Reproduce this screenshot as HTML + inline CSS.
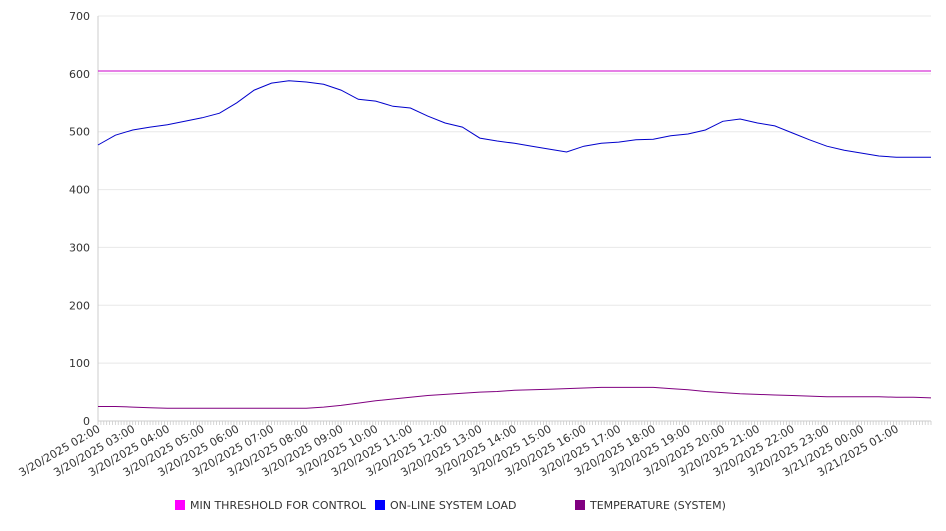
<!DOCTYPE html>
<html><head><meta charset="utf-8"><style>
body{margin:0;background:#fff;}
svg{font-family:"DejaVu Sans","Liberation Sans",sans-serif;}
</style></head><body>
<svg id="chart" width="946" height="526" xmlns="http://www.w3.org/2000/svg">
<g id="grid"></g>
<g id="yaxis"></g>
<g id="xaxis"></g>
<g id="series"></g>
<g font-size="11" fill="#333">
  <g><rect x="175" y="500" width="10" height="10" fill="#ff00ff"/><text x="190" y="509">MIN THRESHOLD FOR CONTROL</text></g>
  <g><rect x="375" y="500" width="10" height="10" fill="#0000ff"/><text x="390" y="509">ON-LINE SYSTEM LOAD</text></g>
  <g><rect x="575" y="500" width="10" height="10" fill="#800080"/><text x="590" y="509">TEMPERATURE (SYSTEM)</text></g>
</g>
</svg>
<script>
const hourLabels=["3/20/2025 02:00","3/20/2025 03:00","3/20/2025 04:00","3/20/2025 05:00","3/20/2025 06:00","3/20/2025 07:00","3/20/2025 08:00","3/20/2025 09:00","3/20/2025 10:00","3/20/2025 11:00","3/20/2025 12:00","3/20/2025 13:00","3/20/2025 14:00","3/20/2025 15:00","3/20/2025 16:00","3/20/2025 17:00","3/20/2025 18:00","3/20/2025 19:00","3/20/2025 20:00","3/20/2025 21:00","3/20/2025 22:00","3/20/2025 23:00","3/21/2025 00:00","3/21/2025 01:00"];
const yTicks=[0,100,200,300,400,500,600,700];
// half-hourly values, 02:00 .. next 02:00
const loadValues=[477,494,503,508,512,518,524,532,550,572,584,588,586,582,572,556,553,544,541,527,515,508,489,484,480,475,470,465,475,480,482,486,487,493,496,503,518,522,515,510,498,486,475,468,463,458,456,456,456];
const tempValues=[25,25,24,23,22,22,22,22,22,22,22,22,22,24,27,31,35,38,41,44,46,48,50,51,53,54,55,56,57,58,58,58,58,56,54,51,49,47,46,45,44,43,42,42,42,42,41,41,40];
const thresholdValue=605;

const NS="http://www.w3.org/2000/svg";
const X0=98,X1=931,Y0=421,Y1=16,HOURS=24;
const xs=h=>X0+(X1-X0)*h/HOURS;
const ys=v=>Y0-(Y0-Y1)*v/700;
function mk(tag,attrs,parent){const e=document.createElementNS(NS,tag);for(const k in attrs)e.setAttribute(k,attrs[k]);parent.appendChild(e);return e;}
const grid=document.getElementById('grid'),ya=document.getElementById('yaxis'),xa=document.getElementById('xaxis'),ser=document.getElementById('series');
yTicks.forEach(v=>{
  if(v>0){const l=mk('line',{x1:X0,x2:X1,y1:ys(v),y2:ys(v),stroke:'#e8e8e8'},grid);
  
  }
  const t=mk('text',{x:90,y:ys(v)+4,'text-anchor':'end','font-size':11,fill:'#333'},ya);t.textContent=v;
  
  
});
const ax=mk('line',{x1:X0,x2:X0,y1:Y1,y2:Y0,stroke:'#ccc'},ya);


const bx=mk('line',{x1:X0,x2:X1,y1:Y0,y2:Y0,stroke:'#ccc'},xa);


for(let m=0;m<=HOURS*60;m+=5){const x=xs(m/60);mk('line',{x1:x,x2:x,y1:Y0,y2:Y0+4,stroke:'#ccc','stroke-width':0.8},xa);}
hourLabels.forEach((s,i)=>{
  const x=xs(i);
  const t=mk('text',{x:0,y:0,'text-anchor':'end','font-size':11,fill:'#333',transform:`translate(${x+3},${Y0+10}) rotate(-30)`},xa);
  t.textContent=s;
  
  
});
function line(vals,color,name){
  const pts=vals.map((v,i)=>xs(i*HOURS/(vals.length-1)).toFixed(1)+','+ys(v).toFixed(1)).join(' ');
  const p=mk('polyline',{points:pts,fill:'none',stroke:color,'stroke-width':1},ser);
  
  
}
line([thresholdValue,thresholdValue],'#cc00cc','threshold-line');
line(loadValues,'#0000cc','load-line');
line(tempValues,'#800080','temperature-line');
</script>
</body></html>
